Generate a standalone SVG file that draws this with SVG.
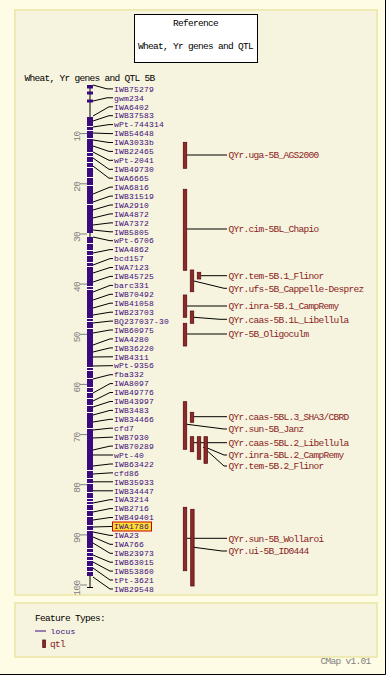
<svg xmlns="http://www.w3.org/2000/svg" width="386" height="675" viewBox="0 0 386 675">
<style>
text{font-family:"Liberation Mono","DejaVu Sans Mono",monospace;font-size:9.5px;letter-spacing:-0.7px}
text.lab{font-size:8px;letter-spacing:0.2px}
.lab{fill:#3d0a7a}
.q{fill:#8b2323}
.k{fill:#000}
.g{fill:#808080}
.c{stroke:#000;stroke-width:1;fill:none}
.tk{stroke:#808080;stroke-width:1}
.bar{fill:#8b2a2a;stroke:#5a1010;stroke-width:0.8}
.gap{stroke:#ffffff;stroke-width:1}
</style>
<rect x="0" y="0" width="386" height="675" fill="#fffce6"/>
<path d="M385.5 0V674.5H0" stroke="#000" stroke-width="1" fill="none"/>
<rect x="15" y="10" width="362" height="585" fill="#f6f4de" stroke="#efe9b4" stroke-width="2"/>
<rect x="15" y="603" width="362" height="54" fill="#f6f4de" stroke="#efe9b4" stroke-width="2"/>
<g id="title">
<rect x="134.5" y="14.5" width="123" height="48" fill="#fff" stroke="#000"/>
<text class="k" x="195.5" y="25.5" text-anchor="middle">Reference</text>
<text class="k" x="195.5" y="49" text-anchor="middle">Wheat, Yr genes and QTL</text>
<text class="k" x="24.5" y="80.5">Wheat, Yr genes and QTL 5B</text>
</g>
<g id="chromosome">
<line x1="90" y1="85" x2="90" y2="588" stroke="#000"/>
<path d="M87 85.5H93M87 587.5H93" stroke="#000"/>
<rect x="87" y="85" width="6" height="3.5" fill="#3a0a80"/>
<rect x="87" y="91.5" width="6" height="3" fill="#3a0a80"/>
<rect x="87" y="99.5" width="6" height="3" fill="#3a0a80"/>
<rect x="87" y="117" width="6" height="116" fill="#3a0a80"/>
<rect x="87" y="237" width="6" height="339" fill="#3a0a80"/>
<path class="gap" d="M87 126.5H93M87 130.5H93M87 138.5H93M87 152.5H93M87 156.5H93M87 162.5H93M87 167.5H93M87 177.5H93M87 185.5H93M87 204.5H93M87 243.5H93M87 250.5H93M87 255.5H93M87 262.5H93M87 266.5H93M87 286.5H93M87 289.5H93M87 318.5H93M87 321.5H93M87 328.5H93M87 367.5H93M87 370.5H93M87 378.5H93M87 387.5H93M87 392.5H93M87 398.5H93M87 405.5H93M87 412.5H93M87 428.5H93M87 470.5H93M87 478.5H93M87 483.5H93M87 492.5H93M87 498.5H93M87 501.5H93M87 504.5H93M87 510.5H93M87 516.5H93M87 525.5H93M87 530.5H93M87 548.5H93M87 552.5H93M87 556.5H93M87 560.5H93M87 566.5H93M87 571.5H93"/>
</g>
<g id="ruler">
<path class="tk" d="M80 133.6H87M80 183.8H87M80 234H87M80 284.1H87M80 334.3H87M80 384.4H87M80 434.6H87M80 484.7H87M80 534.9H87M80 585H87"/>
<text class="g" transform="translate(79.5 136.6) rotate(-90)" text-anchor="middle">10</text>
<text class="g" transform="translate(79.5 186.8) rotate(-90)" text-anchor="middle">20</text>
<text class="g" transform="translate(79.5 237) rotate(-90)" text-anchor="middle">30</text>
<text class="g" transform="translate(79.5 287.1) rotate(-90)" text-anchor="middle">40</text>
<text class="g" transform="translate(79.5 337.3) rotate(-90)" text-anchor="middle">50</text>
<text class="g" transform="translate(79.5 387.4) rotate(-90)" text-anchor="middle">60</text>
<text class="g" transform="translate(79.5 437.6) rotate(-90)" text-anchor="middle">70</text>
<text class="g" transform="translate(79.5 487.7) rotate(-90)" text-anchor="middle">80</text>
<text class="g" transform="translate(79.5 537.9) rotate(-90)" text-anchor="middle">90</text>
<text class="g" transform="translate(79.5 588) rotate(-90)" text-anchor="middle">100</text>
</g>
<g id="connectors">
<path class="c" d="M93 85L107 88.9H113M93 101L107 97.8H113M93 116L109 106.8H113M93 121L109 115.7H113M93 127L109 124.6H113M93 133L109 133.6H113M93 140L109 142.5H113M93 146L109 151.4H113M93 152L109 160.3H113M93 158L109 169.3H113M93 166L109 178.2H113M93 194L110 187.1H113M93 202L110 196.1H113M93 210L110 205H113M93 218L110 213.9H113M93 225L110 222.9H113M93 230L110 231.8H113M93 237L110 240.7H113M93 253L110 249.6H113M93 265L110 258.6H113M93 273L110 267.5H113M93 282L110 276.4H113M93 292L110 285.4H113M93 300L110 294.3H113M93 308L110 303.2H113M93 315L110 312.2H113M93 323L110 321.1H113M93 333L110 330H113M93 345L110 338.9H113M93 352L110 347.9H113M93 357L110 356.8H113M93 366L110 365.7H113M93 379L110 374.7H113M93 393L110 383.6H113M93 401L110 392.5H113M93 407L110 401.5H113M93 415L110 410.4H113M93 422L110 419.3H113M93 430L110 428.2H113M93 438L110 437.2H113M93 450L110 446.1H113M93 455L110 455H113M93 466L110 464H113M93 474L110 472.9H113M93 481.8H113M93 490.8H113M93 503L110 499.7H113M93 512L110 508.6H113M93 520L110 517.5H113M93 527L110 526.5H113M93 532L110 535.4H113M93 537L110 544.3H113M93 543L110 553.3H113M93 555L110 562.2H113M93 562L110 571.1H113M93 568L110 580H113M93 577L110 589H113"/>
<path class="c" d="M187 155H227M187 229H227M201 275.7H227M194 281L224 288.3H227M187 306H227M194 317.3L220 319.3H227M187 334H227M194 416.7H227M187 424.3L224 429H227M194 442.7H227M207.3 448L224 455H227M203 447L224 466H227M187 538.3H227M194 547.3L222 551H227"/>
</g>
<rect id="highlight" x="112.5" y="522" width="39" height="9" fill="#ffe030" stroke="#cc0000"/>
<g id="loci" transform="translate(0 -0.5)">
<text class="lab" x="114" y="92.1">IWB75279</text>
<text class="lab" x="114" y="101">gwm234</text>
<text class="lab" x="114" y="110">IWA6402</text>
<text class="lab" x="114" y="118.9">IWB37583</text>
<text class="lab" x="114" y="127.8">wPt-744314</text>
<text class="lab" x="114" y="136.8">IWB54648</text>
<text class="lab" x="114" y="145.7">IWA3033b</text>
<text class="lab" x="114" y="154.6">IWB22465</text>
<text class="lab" x="114" y="163.5">wPt-2041</text>
<text class="lab" x="114" y="172.5">IWB49730</text>
<text class="lab" x="114" y="181.4">IWA6665</text>
<text class="lab" x="114" y="190.3">IWA6816</text>
<text class="lab" x="114" y="199.3">IWB31519</text>
<text class="lab" x="114" y="208.2">IWA2910</text>
<text class="lab" x="114" y="217.1">IWA4872</text>
<text class="lab" x="114" y="226.1">IWA7372</text>
<text class="lab" x="114" y="235">IWB5805</text>
<text class="lab" x="114" y="243.9">wPt-6706</text>
<text class="lab" x="114" y="252.8">IWA4862</text>
<text class="lab" x="114" y="261.8">bcd157</text>
<text class="lab" x="114" y="270.7">IWA7123</text>
<text class="lab" x="114" y="279.6">IWB45725</text>
<text class="lab" x="114" y="288.6">barc331</text>
<text class="lab" x="114" y="297.5">IWB70492</text>
<text class="lab" x="114" y="306.4">IWB41058</text>
<text class="lab" x="114" y="315.4">IWB23703</text>
<text class="lab" x="114" y="324.3">BQ237037-30</text>
<text class="lab" x="114" y="333.2">IWB60975</text>
<text class="lab" x="114" y="342.1">IWA4280</text>
<text class="lab" x="114" y="351.1">IWB36220</text>
<text class="lab" x="114" y="360">IWB4311</text>
<text class="lab" x="114" y="368.9">wPt-9356</text>
<text class="lab" x="114" y="377.9">fba332</text>
<text class="lab" x="114" y="386.8">IWA8097</text>
<text class="lab" x="114" y="395.7">IWB49776</text>
<text class="lab" x="114" y="404.7">IWB43997</text>
<text class="lab" x="114" y="413.6">IWB3483</text>
<text class="lab" x="114" y="422.5">IWB34466</text>
<text class="lab" x="114" y="431.4">cfd7</text>
<text class="lab" x="114" y="440.4">IWB7930</text>
<text class="lab" x="114" y="449.3">IWB70289</text>
<text class="lab" x="114" y="458.2">wPt-40</text>
<text class="lab" x="114" y="467.2">IWB63422</text>
<text class="lab" x="114" y="476.1">cfd86</text>
<text class="lab" x="114" y="485">IWB35933</text>
<text class="lab" x="114" y="494">IWB34447</text>
<text class="lab" x="114" y="502.9">IWA3214</text>
<text class="lab" x="114" y="511.8">IWB2716</text>
<text class="lab" x="114" y="520.7">IWB49401</text>
<text class="lab" x="114" y="529.7">IWA1786</text>
<text class="lab" x="114" y="538.6">IWA23</text>
<text class="lab" x="114" y="547.5">IWA766</text>
<text class="lab" x="114" y="556.5">IWB23973</text>
<text class="lab" x="114" y="565.4">IWB63015</text>
<text class="lab" x="114" y="574.3">IWB53860</text>
<text class="lab" x="114" y="583.3">tPt-3621</text>
<text class="lab" x="114" y="592.2">IWB29548</text>
</g>
<g id="qtl-uga"><rect class="bar" x="183.3" y="142.3" width="3.4" height="26"/><text class="q" x="228.5" y="158.2">QYr.uga-5B_AGS2000</text></g>
<g id="qtl-cim"><rect class="bar" x="183.3" y="189.3" width="3.4" height="81"/><text class="q" x="228.5" y="232.2">QYr.cim-5BL_Chapio</text></g>
<g id="qtl-ufs"><rect class="bar" x="190.3" y="270" width="3.4" height="21.7"/><text class="q" x="228.5" y="291.5">QYr.ufs-5B_Cappelle-Desprez</text></g>
<g id="qtl-tem1"><rect class="bar" x="197.3" y="272.3" width="3.4" height="6.7"/><text class="q" x="228.5" y="278.9">QYr.tem-5B.1_Flinor</text></g>
<g id="qtl-inra1"><rect class="bar" x="183.3" y="295" width="3.4" height="22.3"/><text class="q" x="228.5" y="309.2">QYr.inra-5B.1_CampRemy</text></g>
<g id="qtl-caas1L"><rect class="bar" x="190.3" y="311" width="3.4" height="12.3"/><text class="q" x="228.5" y="322.5">QYr.caas-5B.1L_Libellula</text></g>
<g id="qtl-oligo"><rect class="bar" x="183.3" y="323.3" width="3.4" height="22.7"/><text class="q" x="228.5" y="337.2">QYr-5B_Oligoculm</text></g>
<g id="qtl-janz"><rect class="bar" x="183.3" y="401.7" width="3.4" height="47.6"/><text class="q" x="228.5" y="432.2">QYr.sun-5B_Janz</text></g>
<g id="qtl-caas3"><rect class="bar" x="190.3" y="412.3" width="3.4" height="10"/><text class="q" x="228.5" y="419.9">QYr.caas-5BL.3_SHA3/CBRD</text></g>
<g id="qtl-caas2"><rect class="bar" x="190.3" y="436.7" width="3.4" height="15"/><text class="q" x="228.5" y="445.9">QYr.caas-5BL.2_Libellula</text></g>
<g id="qtl-inra2"><rect class="bar" x="197.3" y="436.7" width="3.4" height="22.6"/><text class="q" x="228.5" y="458.2">QYr.inra-5BL.2_CampRemy</text></g>
<g id="qtl-tem2"><rect class="bar" x="204" y="436.7" width="3.4" height="26.6"/><text class="q" x="228.5" y="469.2">QYr.tem-5B.2_Flinor</text></g>
<g id="qtl-wollaroi"><rect class="bar" x="183.3" y="507.3" width="3.4" height="63.4"/><text class="q" x="228.5" y="541.5">QYr.sun-5B_Wollaroi</text></g>
<g id="qtl-ui"><rect class="bar" x="190.7" y="509.3" width="3.4" height="76.7"/><text class="q" x="228.5" y="554.2">QYr.ui-5B_ID0444</text></g>
<g id="legend">
<text class="k" x="35" y="621">Feature Types:</text>
<line x1="35" y1="631" x2="46" y2="631" stroke="#3d0a7a"/>
<text class="lab" x="50.5" y="634.2">locus</text>
<rect class="bar" x="42.7" y="640" width="2.8" height="7.6"/>
<text class="q" x="50" y="647.2">qtl</text>
<text class="g" x="320.5" y="664.2">CMap v1.01</text>
</g>
</svg>
